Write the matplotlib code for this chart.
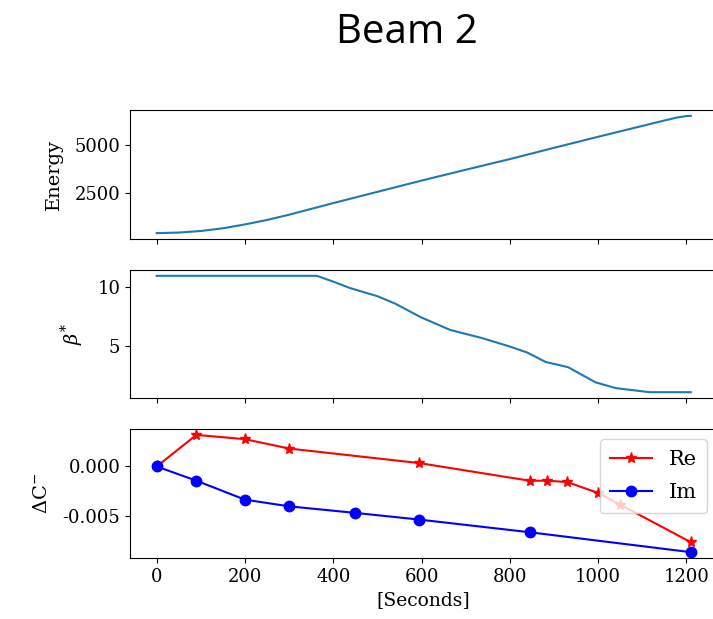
import numpy as np
import matplotlib.pyplot as plt

plt.rcParams['font.family'] = ['DejaVu Serif']
plt.rcParams['mathtext.fontset'] = 'dejavuserif'
plt.rcParams['xtick.labelsize'] = 13
plt.rcParams['ytick.labelsize'] = 13

# ramp programme: beam energy [GeV] and beta* [m] vs time
t_energy = [0, 50, 100, 150, 200, 250, 300, 350, 400, 500, 600, 700, 800,
            900, 1000, 1100, 1150, 1180, 1200, 1210]
energy = [450, 480, 560, 700, 900, 1130, 1400, 1700, 2000, 2580, 3160, 3720,
          4270, 4850, 5420, 5980, 6260, 6420, 6490, 6500]

t_beta = [0, 363, 400, 438, 500, 541, 598, 665, 737, 798, 840, 881, 932,
          994, 1040, 1117, 1210]
beta = [11, 11, 10.5, 9.95, 9.25, 8.6, 7.45, 6.35, 5.65, 4.95, 4.4, 3.6,
        3.15, 1.85, 1.35, 1.0, 1.0]

# coupling delta C- measurements
t_re = [0, 90, 200, 300, 595, 845, 885, 930, 1000, 1050, 1210]
dc_re = [0.0, 0.00317, 0.00274, 0.0018, 0.00034, -0.00143, -0.00143,
         -0.00156, -0.00266, -0.00383, -0.0076]
t_im = [0, 90, 200, 300, 450, 595, 845, 1210]
dc_im = [0.0, -0.00143, -0.00333, -0.0040, -0.00466, -0.00533, -0.0066,
         -0.0086]

fig = plt.figure(figsize=(7.13, 6.19), dpi=100)
left, width = 0.1823, 0.824
ax1 = fig.add_axes([left, 0.6139, width, 0.2084])
ax2 = fig.add_axes([left, 0.357, width, 0.2068], sharex=ax1)
ax3 = fig.add_axes([left, 0.0985, width, 0.2084], sharex=ax1)

ax1.plot(t_energy, energy, color='tab:blue')
ax1.set_ylabel('Energy', fontsize=14, labelpad=8)
ax1.set_yticks([2500, 5000])

ax2.plot(t_beta, beta, color='tab:blue')
ax2.set_ylabel(r'$\beta^{*}$', fontsize=14, labelpad=8)
ax2.set_yticks([5, 10])

ax3.plot(t_re, dc_re, color='red', marker='*', markersize=8, label='Re')
ax3.plot(t_im, dc_im, color='blue', marker='o', markersize=7.5, label='Im')
ax3.set_ylabel(r'$\Delta \mathrm{C}^{-}$', fontsize=14, labelpad=8)
ax3.set_yticks([-0.005, 0.0])
ax3.yaxis.set_major_formatter(plt.FormatStrFormatter('%.3f'))
ax3.set_xlabel('[Seconds]', fontsize=13.5)
ax3.legend(loc='upper right', fontsize=15, labelspacing=0.7, borderpad=0.5)

for ax in (ax1, ax2, ax3):
    ax.spines['right'].set_visible(False)
for ax in (ax1, ax2):
    ax.tick_params(labelbottom=False)
ax3.set_xticks([0, 200, 400, 600, 800, 1000, 1200])

fig.text(0.571, 0.93, 'Beam 2', fontsize=29, family='Open Sans',
         ha='center', va='baseline')

fig.savefig('out.png', dpi=100)
